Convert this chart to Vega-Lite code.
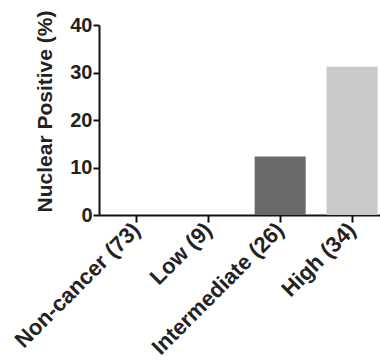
{
  "$schema": "https://vega.github.io/schema/vega-lite/v6.json",
  "autosize": {"type": "none"},
  "padding": {"left": 99, "top": 25, "right": 0, "bottom": 149},
  "width": 281,
  "height": 190,
  "background": "white",
  "data": {
    "values": [
      {"group": "Non-cancer (73)", "value": 0},
      {"group": "Low (9)", "value": 0},
      {"group": "Intermediate (26)", "value": 12.3},
      {"group": "High (34)", "value": 31.2}
    ]
  },
  "mark": {"type": "bar"},
  "encoding": {
    "x": {
      "field": "group",
      "type": "nominal",
      "sort": null,
      "scale": {"paddingInner": 0.29, "paddingOuter": 0.1, "align": 0.83},
      "axis": {
        "title": null,
        "labelAngle": -45,
        "labelAlign": "right",
        "labelBaseline": "middle",
        "labelFont": "Liberation Sans",
        "labelFontWeight": "bold",
        "labelFontSize": 22,
        "labelColor": "#222",
        "labelPadding": 4,
        "domainColor": "#111",
        "domainWidth": 2,
        "tickColor": "#111",
        "tickWidth": 2,
        "tickSize": 7
      }
    },
    "y": {
      "field": "value",
      "type": "quantitative",
      "scale": {"domain": [0, 40], "nice": false},
      "axis": {
        "title": "Nuclear Positive (%)",
        "values": [0, 10, 20, 30, 40],
        "grid": false,
        "labelFont": "Liberation Sans",
        "labelFontWeight": "bold",
        "labelFontSize": 20,
        "labelColor": "#222",
        "labelPadding": 1,
        "domainColor": "#111",
        "domainWidth": 2,
        "tickColor": "#111",
        "tickWidth": 2,
        "tickSize": 6,
        "titleFont": "Liberation Sans",
        "titleFontWeight": "bold",
        "titleFontSize": 21,
        "titleColor": "#222",
        "titleAngle": -90,
        "titleAlign": "center",
        "titleBaseline": "middle",
        "titleX": -54,
        "titleY": 86
      }
    },
    "color": {
      "field": "group",
      "type": "nominal",
      "sort": null,
      "scale": {
        "domain": ["Non-cancer (73)", "Low (9)", "Intermediate (26)", "High (34)"],
        "range": ["#ffffff", "#ffffff", "#6a6a6a", "#c9c9c9"]
      },
      "legend": null
    }
  },
  "config": {"view": {"stroke": null}}
}
